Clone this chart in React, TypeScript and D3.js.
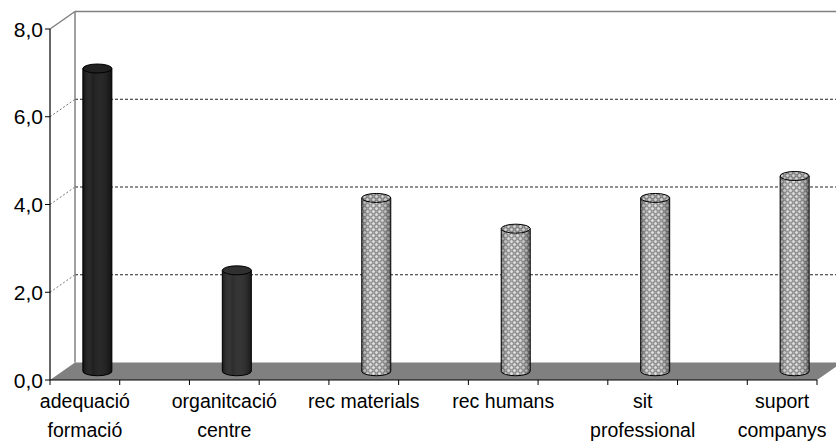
import React from "react";
import * as d3 from "d3";

// ---- data ----
const categories: string[] = [
  "adequació\nformació",
  "",
  "organitcació\ncentre",
  "",
  "rec materials",
  "",
  "rec humans",
  "",
  "sit\nprofessional",
  "",
  "suport\ncompanys",
];
const values: (number | null)[] = [6.9, null, 2.3, null, 3.95, null, 3.25, null, 3.95, null, 4.45];
const yTicks: number[] = [0, 2, 4, 6, 8];

// ---- style (not data) ----
const BAR_FILLS: string[] = ["#161616", "", "#252525", "", "url(#chk)", "", "url(#chk)", "", "url(#chk)", "", "url(#chk)"];

const W = 836;
const H = 443;
const DX = 25;
const DY = 17.5;
const X0 = 50;
const X1 = 817;

const locale = d3.formatLocale({ decimal: ",", thousands: ".", grouping: [3], currency: ["", "€"] });
const fmt = locale.format(".1f");

export default function App() {
  const x = d3.scaleBand<number>().domain(d3.range(categories.length)).range([X0, X1]).paddingInner(0).paddingOuter(0);
  const y = d3.scaleLinear().domain([0, 8]).range([380, 29]);
  const bw = x.bandwidth();
  const font = "'Liberation Sans', Arial, sans-serif";
  const rx = 14.5;
  const ry = 4.5;

  const tickXs = d3.range(categories.length + 1).map((i) => X0 + i * bw);

  return (
    <svg width={W} height={H} style={{ position: "absolute", left: 0, top: 0, background: "#fff" }}>
      <defs>
        <pattern id="chk" width="6" height="6" patternUnits="userSpaceOnUse">
          <rect width="6" height="6" fill="#7c7c7c" />
          <circle cx="1.5" cy="1.5" r="1.5" fill="#dcdcdc" />
          <circle cx="4.5" cy="4.5" r="1.5" fill="#dcdcdc" />
          <circle cx="4.5" cy="1.5" r="1.2" fill="#a0a0a0" />
          <circle cx="1.5" cy="4.5" r="1.2" fill="#a0a0a0" />
        </pattern>
        <linearGradient id="shade" x1="0" x2="1" y1="0" y2="0">
          <stop offset="0%" stopColor="#000" stopOpacity="0.35" />
          <stop offset="30%" stopColor="#fff" stopOpacity="0.1" />
          <stop offset="55%" stopColor="#fff" stopOpacity="0.03" />
          <stop offset="100%" stopColor="#000" stopOpacity="0.45" />
        </linearGradient>
        <linearGradient id="shadeDark" x1="0" x2="1" y1="0" y2="0">
          <stop offset="0%" stopColor="#000" stopOpacity="0.3" />
          <stop offset="35%" stopColor="#fff" stopOpacity="0.04" />
          <stop offset="100%" stopColor="#000" stopOpacity="0.3" />
        </linearGradient>
      </defs>

      {/* left wall gridline diagonals */}
      {yTicks.filter((t) => t > 0 && t < 8).map((t) => (
        <line key={"lg" + t} x1={X0} y1={y(t)} x2={X0 + DX} y2={y(t) - DY} stroke="#777" strokeWidth={1} strokeDasharray="2,2" />
      ))}
      {/* back wall gridlines */}
      {yTicks.filter((t) => t > 0 && t < 8).map((t) => (
        <line key={"bg" + t} x1={X0 + DX} y1={y(t) - DY} x2={W} y2={y(t) - DY} stroke="#222" strokeWidth={1} strokeDasharray="3,2" />
      ))}

      {/* walls frame */}
      <line x1={X0 + DX} y1={y(8) - DY} x2={W} y2={y(8) - DY} stroke="#808080" strokeWidth={1.5} />
      <line x1={X0 + DX} y1={y(8) - DY} x2={X0 + DX} y2={y(0) - DY} stroke="#808080" strokeWidth={1.5} />
      <line x1={X0} y1={y(8)} x2={X0 + DX} y2={y(8) - DY} stroke="#808080" strokeWidth={1.5} />

      {/* floor */}
      <polygon
        points={`${X0},${y(0)} ${X1},${y(0)} ${X1 + DX},${y(0) - DY} ${X0 + DX},${y(0) - DY}`}
        fill="#808080"
      />

      {/* bars */}
      {values.map((v, i) => {
        if (v == null) return null;
        const cx = (x(i) as number) + bw / 2 + DX / 2;
        const yb = y(0) - DY / 2;
        const yt = y(v) - DY / 2;
        const fill = BAR_FILLS[i];
        const dark = !fill.startsWith("url");
        const body = `M${cx - rx},${yt} L${cx - rx},${yb} A${rx},${ry} 0 0 0 ${cx + rx},${yb} L${cx + rx},${yt} Z`;
        return (
          <g key={"b" + i}>
            <path d={body} fill={fill} />
            <path d={body} fill={dark ? "url(#shadeDark)" : "url(#shade)"} stroke="#000" strokeWidth={1} />
            <ellipse cx={cx} cy={yt} rx={rx} ry={ry} fill={fill} />
            <ellipse cx={cx} cy={yt} rx={rx} ry={ry} fill={dark ? "rgba(255,255,255,0.05)" : "rgba(0,0,0,0.05)"} stroke="#000" strokeWidth={1} />
          </g>
        );
      })}

      {/* front axes */}
      <line x1={X0} y1={y(8)} x2={X0} y2={y(0)} stroke="#000" strokeWidth={1.2} />
      <line x1={X0} y1={y(0)} x2={X1} y2={y(0)} stroke="#000" strokeWidth={1.2} />
      {yTicks.map((t) => (
        <g key={"yt" + t}>
          <line x1={X0 - 5} y1={y(t)} x2={X0} y2={y(t)} stroke="#000" strokeWidth={1} />
          <text x={43} y={y(t)} dy="0.36em" textAnchor="end" fontFamily={font} fontSize={21} fill="#000">
            {fmt(t)}
          </text>
        </g>
      ))}
      {tickXs.map((tx, i) => (
        <line key={"xt" + i} x1={tx} y1={y(0)} x2={tx} y2={y(0) + 5} stroke="#000" strokeWidth={1} />
      ))}
      {categories.map((c, i) => {
        if (!c) return null;
        const cx = (x(i) as number) + bw / 2;
        return (
          <text key={"xl" + i} x={cx} y={408} textAnchor="middle" fontFamily={font} fontSize={19.5} fill="#000">
            {c.split("\n").map((ln, k) => (
              <tspan key={k} x={cx} dy={k === 0 ? 0 : 29}>
                {ln}
              </tspan>
            ))}
          </text>
        );
      })}
    </svg>
  );
}
